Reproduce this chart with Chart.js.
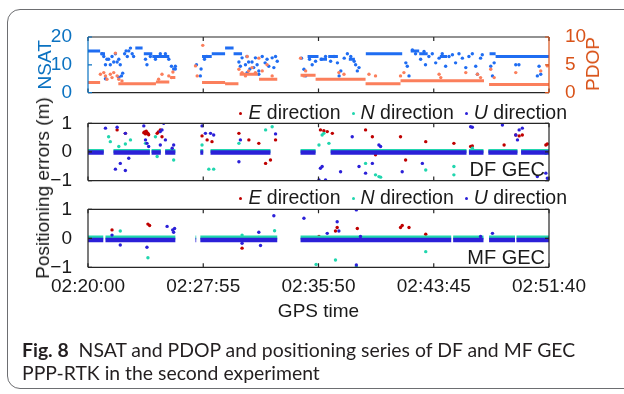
<!DOCTYPE html>
<html>
<head>
<meta charset="utf-8">
<script src="https://cdn.jsdelivr.net/npm/chart.js@4.4.1/dist/chart.umd.min.js"></script>
<style>
  body { margin: 0; width: 624px; height: 394px; background: #fff; position: relative; overflow: hidden;
         font-family: "Liberation Sans", Arial, sans-serif; color: #1a1a1a; }
  .frame { position: absolute; left: 7px; top: 9px; width: 660px; height: 378px;
           border: 1.5px solid #6d6e71; border-radius: 13px; }
  canvas { position: absolute; left: 0; }
  .txt { position: absolute; white-space: nowrap; }
  .legend { font-size: 19.5px; line-height: 22px; right: 57px; }
  .mk { display: inline-block; width: 3px; height: 3px; border-radius: 50%; vertical-align: middle; margin: 0 6px 0 11px; }
  .tag { font-size: 20px; line-height: 24px; right: 79px; }
  .rot { transform: translate(-50%, -50%) rotate(-90deg); font-size: 19px; line-height: 22px; }
  .cap { left: 22px; top: 338px; font-family: Lato, "Open Sans", sans-serif; font-size: 19.4px; line-height: 23px; color: #231f20; }
</style>
</head>
<body>
<div class="frame"></div>
<canvas id="c1" width="624" height="112" style="top:0"></canvas>
<canvas id="c2" width="624" height="100" style="top:100px"></canvas>
<canvas id="c3" width="624" height="142" style="top:188px"></canvas>

<div class="txt rot" style="left:593px; top:64px; color:#d95319">PDOP</div>
<div class="txt rot" style="left:43px; top:188px">Positioning errors (m)</div>
<div class="txt legend" style="top:101px"><span class="mk" style="background:#bf0000"></span><i>E</i> direction<span class="mk" style="background:#20d6ae"></span><i>N</i> direction<span class="mk" style="background:#2b20d8"></span><i>U</i> direction</div>
<div class="txt legend" style="top:186px"><span class="mk" style="background:#bf0000"></span><i>E</i> direction<span class="mk" style="background:#20d6ae"></span><i>N</i> direction<span class="mk" style="background:#2b20d8"></span><i>U</i> direction</div>
<div class="txt tag" style="top:157px">DF GEC</div>
<div class="txt tag" style="top:245px">MF GEC</div>
<div class="txt cap"><b>Fig. 8</b>&nbsp; NSAT and PDOP and positioning series of DF and MF GEC<br>PPP-RTK in the second experiment</div>

<script>
// x values are seconds after 02:20:00
const xTicks = [0, 475, 950, 1425, 1900];

// NSAT: flat stretches [from, to, value] and single epochs [t, value]
const nsatRuns = [[0, 50, 15], [51, 70, 14], [195, 225, 16], [230, 265, 14], [265, 335, 13],
  [470, 510, 13], [510, 565, 14], [565, 600, 16], [600, 635, 14], [905, 950, 13], [955, 985, 12],
  [990, 1030, 13], [1075, 1100, 12], [1145, 1295, 14], [1330, 1365, 15], [1365, 1400, 14],
  [1450, 1480, 13], [1655, 1680, 14], [1680, 1900, 13]];
const nsatPts = [[58, 14], [65, 13], [72, 10], [78, 12], [85, 12], [92, 10], [99, 13], [106, 11], [113, 14],
  [120, 11], [127, 12], [133, 10], [138, 6], [143, 7], [151, 14], [157, 15], [162, 13], [168, 15], [175, 16],
  [182, 14], [188, 13], [72, 5], [127, 5.5], [237, 12], [243, 10], [257, 13], [278, 12], [298, 14], [319, 14],
  [326, 13], [333, 12], [344, 9.5], [353, 8.5], [360, 9.5], [360, 8.5],
  [447, 10], [463, 6], [466, 8.5], [480, 12], [490, 13], [622, 11], [628, 9.5], [635, 12.5], [649, 10],
  [655, 13], [662, 11], [667, 8.5], [676, 11], [683, 9], [690, 12.5], [697, 10], [704, 7.8], [718, 13],
  [730, 10.7], [738, 12], [745, 9.5], [759, 12.5], [766, 9], [773, 13], [780, 11.3], [656, 7.2], [704, 6.6],
  [880, 12.4], [890, 8.4], [897, 6], [913, 12], [924, 10], [938, 11.3], [962, 12], [979, 13], [1000, 11.3],
  [1014, 13], [1028, 10.7], [1035, 6], [1042, 7.8], [1056, 12.4], [1069, 14], [1083, 13], [1097, 11.3],
  [1103, 10], [1117, 9], [1110, 7.8], [1310, 10.7], [1316, 9.5], [1323, 6], [1337, 15.3], [1350, 14],
  [1371, 12], [1385, 14.8], [1391, 10], [1405, 13], [1419, 14], [1433, 10.7], [1447, 12.4], [1460, 14],
  [1474, 9.5], [1488, 13], [1502, 13.6], [1515, 10.7], [1529, 14], [1543, 12.4], [1557, 9], [1570, 13],
  [1584, 14], [1598, 9.5], [1605, 6.6], [1618, 12.4], [1625, 13.6],
  [1660, 9.5], [1667, 6], [1674, 10.7], [1763, 10], [1776, 10], [1859, 9.5], [1866, 6.6], [1852, 6]];

// PDOP
const pdopRuns = [[0, 50, 1.8], [125, 280, 1.6], [280, 335, 1.9], [340, 360, 2.7], [470, 565, 1.8],
  [565, 620, 1.6], [625, 700, 3.3], [705, 780, 2.4], [876, 938, 3.1], [938, 1144, 2.4], [1144, 1288, 1.6],
  [1288, 1632, 2.15], [1653, 1900, 1.45]];
const pdopPts = [[51, 3.3], [65, 3.6], [72, 3], [78, 2.4], [92, 3.3], [106, 3.6], [113, 7.1], [120, 3],
  [127, 2.4], [99, 2.7], [140, 2.1], [291, 2.4], [305, 3.3], [333, 3], [344, 2.7], [350, 3.7], [473, 8.5],
  [443, 4.8], [450, 3], [622, 4.2], [635, 3.6], [649, 3], [656, 6.5], [662, 3.9], [676, 4.5], [690, 3.6],
  [704, 6.2], [718, 3.9], [738, 5], [759, 3], [876, 6.2], [890, 3], [897, 3.9], [1034, 3.6], [1055, 3.3],
  [1158, 3.3], [1185, 3], [1288, 3], [1302, 3.6], [1447, 3.3], [1454, 2.7], [1557, 3.6], [1605, 3.3],
  [1618, 2.7], [1660, 4.2], [1674, 2.7], [1763, 3.6], [1866, 3.9], [1893, 4.8]];

// DF GEC errors (m)
const dfSpans = [[0, 65], [105, 255], [262, 300], [318, 360], [463, 475], [505, 752], [876, 938],
  [1000, 1560], [1570, 1630], [1650, 1770], [1785, 1900]];
const dfLevelN = 0.03, dfLevelU = -0.02;
const dfE = [[120, 0.77], [154, 0.65], [230, 0.67], [233, 0.7], [237, 0.63], [240, 0.72], [243, 0.67],
  [247, 0.65], [250, 0.6], [285, 0.65], [290, 0.7], [298, 0.77], [305, 0.53], [470, 0.56], [491, 0.42],
  [511, 0.36], [622, 0.65], [663, 0.42], [704, 0.3], [732, -0.4], [752, -0.28], [773, 0.42], [958, 0.77],
  [972, 0.74], [986, 0.71], [1007, 0.65], [1144, 0.77], [1172, 0.53], [1185, -0.1], [1288, 0.53],
  [1309, -0.28], [1392, 0.36], [1508, 0.3], [1577, 0.19], [1584, 0.21], [1715, 0.24], [1763, 0.59],
  [1777, 0.56], [1790, 0.59], [1887, 0.24], [1893, 0.28]];
const dfN = [[85, 0.53], [92, 0.36], [127, 0.19], [154, 0.28], [175, 0.42], [237, 0.3], [278, 0.53],
  [285, -0.16], [353, -0.28], [470, 0.24], [498, -0.6], [518, -0.6], [622, 0.3], [732, 0.77], [759, 0.88],
  [952, 0.24], [965, 0.59], [972, 0.65], [993, 0.3], [1144, -0.4], [1185, -0.8], [1199, -0.86],
  [1206, -0.88], [1392, -0.63], [1508, -0.51], [1508, -0.8], [1584, 0.13], [1887, -0.05]];
const dfU = [[72, 0.83], [120, 0.86], [230, 0.91], [312, 1.0], [298, 0.71], [154, 0.65], [113, -0.6],
  [154, -0.65], [168, -0.22], [133, -0.4], [353, 0.24], [347, 0.13], [237, 0.42], [243, 0.3], [250, 0.19],
  [305, 0.77], [319, 0.42], [298, 0.24], [470, 0.91], [484, 0.65], [505, 0.65], [518, 0.59], [628, 0.42],
  [622, -0.34], [773, 0.63], [952, -0.98], [979, -0.98], [965, -0.51], [958, -0.57], [1041, -0.69],
  [1089, 0.53], [1117, -0.51], [1144, -0.74], [1172, -0.4], [1199, 0.24], [1206, 0.19], [1295, -0.69],
  [1378, -0.4], [1577, 0.88], [1584, 0.86], [1708, 0.94], [1763, 0.59], [1770, 0.42], [1777, 0.77],
  [1790, 0.83], [1852, -0.86], [1887, -0.74], [1893, -0.92]];

// MF GEC errors (m)
const mfSpans = [[0, 63], [72, 360], [443, 446], [463, 780], [876, 1497], [1505, 1630], [1653, 1760],
  [1766, 1900]];
const mfLevelN = 0.03, mfLevelU = -0.06;
const mfE = [[99, 0.29], [247, 0.49], [254, 0.44], [635, -0.34], [704, 0.03], [952, 0.06], [1020, 0.25],
  [1027, 0.37], [1110, 0.34], [1288, 0.37], [1295, 0.44], [1323, 0.37], [1392, 0.14]];
const mfN = [[133, 0.25], [247, -0.67], [635, 0.11], [769, 0.26], [940, -0.9], [1020, -0.75],
  [1106, -0.98], [1392, -0.46]];
const mfU = [[99, 0.11], [133, -0.23], [243, -0.31], [326, 0.41], [349, 0.29], [353, 0.21], [357, 0.34],
  [635, -0.17], [704, 0.21], [711, -0.25], [766, 0.78], [890, 0.69], [986, 0.17], [1027, 0.57],
  [1034, 0.25], [1106, 0.98], [1106, -0.92], [1123, 0.06], [1618, 0.06], [1667, 0.17]];

const AX_BLUE = '#0b72c1', AX_ORANGE = '#d95319';
const C_NSAT = '#1f6df2', C_PDOP = '#fb7f5c', C_E = '#bf0000', C_N = '#20d6ae', C_U = '#2b20d8';
const INK = '#1a1a1a';

Chart.defaults.font.family = '"Liberation Sans", Arial, sans-serif';
Chart.defaults.color = INK;

function fmt(s) {
  const t = 8400 + s;
  return [Math.floor(t / 3600), Math.floor(t % 3600 / 60), t % 60]
    .map(n => String(n).padStart(2, '0')).join(':');
}
function runs(list, level) {
  const out = [];
  list.forEach(r => {
    const v = r.length > 2 ? r[2] : level;
    out.push({x: r[0], y: v}, {x: r[1], y: v}, {x: r[1], y: null});
  });
  return out;
}
function dots(data, color, axis) {
  return {data: data.map(p => ({x: p[0], y: p[1]})), backgroundColor: color, borderColor: color,
    pointRadius: 1.7, pointBorderWidth: 0, showLine: false, yAxisID: axis || 'y'};
}
function band(data, color, width, axis) {
  return {data, borderColor: color, backgroundColor: color, borderWidth: width, pointRadius: 0,
    showLine: true, spanGaps: false, yAxisID: axis || 'y'};
}

// box round the axes with inward ticks, like the original
const frame = {
  id: 'frame',
  afterDatasetsDraw(chart, args, o) {
    const {ctx, chartArea: a, scales} = chart;
    const len = 4;
    ctx.save();
    ctx.lineWidth = 1.2;
    ctx.strokeStyle = '#262626';
    ctx.beginPath();
    ctx.moveTo(a.left, a.top); ctx.lineTo(a.right, a.top);
    ctx.moveTo(a.left, a.bottom); ctx.lineTo(a.right, a.bottom);
    xTicks.forEach(v => {
      const x = scales.x.getPixelForValue(v);
      ctx.moveTo(x, a.top); ctx.lineTo(x, a.top + len);
      ctx.moveTo(x, a.bottom); ctx.lineTo(x, a.bottom - len);
    });
    ctx.stroke();
    ctx.strokeStyle = o.leftColor;
    ctx.beginPath();
    ctx.moveTo(a.left, a.top); ctx.lineTo(a.left, a.bottom);
    o.leftTicks.forEach(v => {
      const y = scales.y.getPixelForValue(v);
      ctx.moveTo(a.left, y); ctx.lineTo(a.left + len, y);
    });
    ctx.stroke();
    const ry = scales[o.rightAxis];
    ctx.strokeStyle = o.rightColor;
    ctx.beginPath();
    ctx.moveTo(a.right, a.top); ctx.lineTo(a.right, a.bottom);
    o.rightTicks.forEach(v => {
      const y = ry.getPixelForValue(v);
      ctx.moveTo(a.right, y); ctx.lineTo(a.right - len, y);
    });
    ctx.stroke();
    ctx.restore();
  }
};

function xScale(show) {
  return {
    type: 'linear', min: 0, max: 1900, display: show,
    afterBuildTicks: s => { s.ticks = xTicks.map(v => ({value: v})); },
    grid: {display: false}, border: {display: false},
    ticks: {callback: v => fmt(v), maxRotation: 0, autoSkip: false, padding: 0, font: {size: 19}, color: INK},
    title: {display: show, text: 'GPS time', font: {size: 19}, padding: {top: 0, bottom: 7}, color: INK},
    afterFit: s => { if (show) s.height = 62.7; }
  };
}
function errScale() {
  return {
    min: -1, max: 1, grid: {display: false}, border: {display: false},
    ticks: {stepSize: 1, font: {size: 19}, padding: 8, color: INK,
      callback: v => v < 0 ? '\u2212' + Math.abs(v) : String(v)},
    afterFit: s => { s.width = 54; }
  };
}
const common = {responsive: false, animation: false, events: []};

new Chart(document.getElementById('c1'), {
  type: 'scatter',
  data: {datasets: [
    dots(pdopPts, C_PDOP, 'y2'),
    band(runs(pdopRuns), C_PDOP, 3, 'y2'),
    dots(nsatPts, C_NSAT),
    band(runs(nsatRuns), C_NSAT, 3)
  ]},
  options: {...common,
    layout: {padding: {left: 34, right: 0, top: 37, bottom: 17.3}},
    plugins: {legend: {display: false}, tooltip: {enabled: false},
      frame: {leftColor: AX_BLUE, leftTicks: [0, 10, 20], rightAxis: 'y2', rightColor: AX_ORANGE, rightTicks: [0, 5, 10]}},
    scales: {
      x: xScale(false),
      y: {position: 'left', min: 0, max: 20, grid: {display: false}, border: {display: false},
        ticks: {stepSize: 10, color: AX_BLUE, font: {size: 19}, padding: 8},
        title: {display: true, text: 'NSAT', color: AX_BLUE, font: {size: 19}, padding: 0},
        afterFit: s => { s.width = 54; }},
      y2: {position: 'right', min: 0, max: 10, grid: {display: false}, border: {display: false},
        ticks: {stepSize: 5, color: AX_ORANGE, font: {size: 19}, padding: 8},
        afterFit: s => { s.width = 75; }}
    }},
  plugins: [frame]
});

function errChart(id, spans, levelN, levelU, e, n, u, pad) {
  new Chart(document.getElementById(id), {
    type: 'scatter',
    data: {datasets: [
      dots(u, C_U),
      band(runs(spans, levelU), C_U, 4.5),
      dots(n, C_N),
      band(runs(spans, levelN), C_N, 4),
      dots(e, C_E)
    ]},
    options: {...common,
      layout: {padding: pad},
      plugins: {legend: {display: false}, tooltip: {enabled: false},
        frame: {leftColor: '#262626', leftTicks: [-1, 0, 1], rightAxis: 'y', rightColor: '#262626', rightTicks: [-1, 0, 1]}},
      scales: {x: xScale(id === 'c3'), y: errScale()}},
    plugins: [frame]
  });
}
errChart('c2', dfSpans, dfLevelN, dfLevelU, dfE, dfN, dfU, {left: 34, right: 75, top: 23.3, bottom: 19.3});
errChart('c3', mfSpans, mfLevelN, mfLevelU, mfE, mfN, mfU, {left: 34, right: 75, top: 21.3, bottom: 0});
</script>
</body>
</html>
